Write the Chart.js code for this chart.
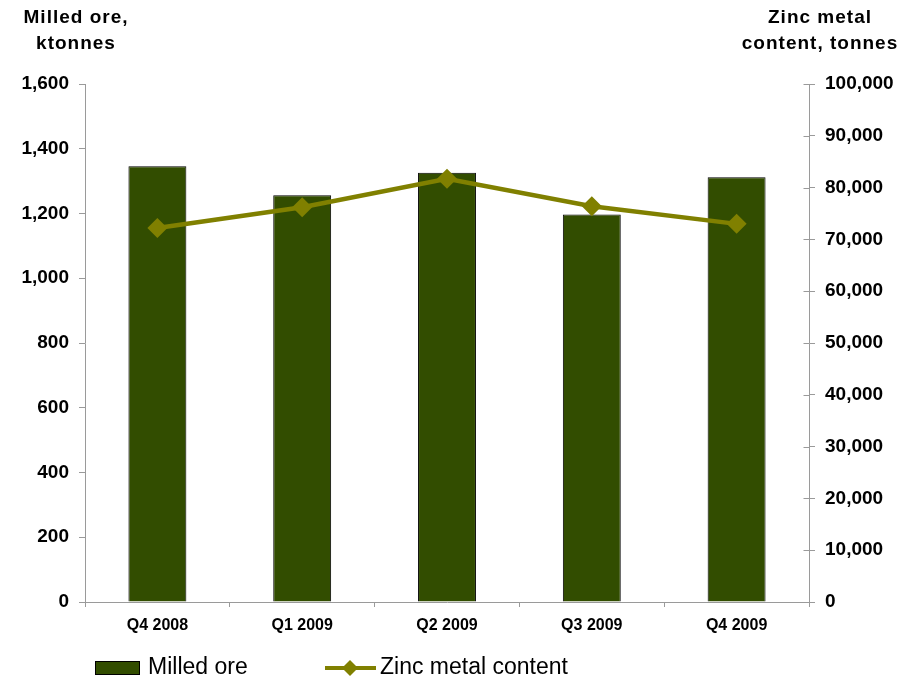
<!DOCTYPE html>
<html>
<head>
<meta charset="utf-8">
<script src="https://cdn.jsdelivr.net/npm/chart.js@4.4.0/dist/chart.umd.min.js"></script>
<style>
  html, body { margin: 0; padding: 0; background: #fff; }
  #wrap { width: 899px; height: 679px; position: relative; }
</style>
</head>
<body>
<div id="wrap"><canvas id="chart"></canvas></div>
<script>
  const quarters = ["Q4 2008", "Q1 2009", "Q2 2009", "Q3 2009", "Q4 2009"];
  const milledOre = [1346, 1256, 1326, 1197, 1312];        // ktonnes
  const zincContent = [72200, 76200, 81700, 76400, 73000];  // tonnes

  const FONT = "'Liberation Sans', Arial, sans-serif";
  const BAR_COLOR = "#324d00";
  const LINE_COLOR = "#808000";
  const AXIS_COLOR = "#9a9a9a";

  const fmt = v => Number(v).toLocaleString("en-US");

  // axis titles sit above the two value axes
  const axisTitles = {
    id: "axisTitles",
    afterDraw(chart) {
      const ctx = chart.ctx;
      ctx.save();
      ctx.fillStyle = "#000";
      ctx.font = "bold 19px " + FONT;
      ctx.letterSpacing = "1px";
      ctx.textAlign = "center";
      ctx.textBaseline = "alphabetic";
      ctx.fillText("Milled ore,", 76, 23);
      ctx.fillText("ktonnes", 76, 49);
      ctx.fillText("Zinc metal", 820, 23);
      ctx.fillText("content, tonnes", 820, 49);
      ctx.restore();
    }
  };

  // right axis ticks cross the axis line: add the inner half
  const innerTicks = {
    id: "innerTicks",
    afterDatasetsDraw(chart) {
      const s = chart.scales.y1;
      const ctx = chart.ctx;
      const x = Math.round(chart.chartArea.right) + 0.5;
      ctx.save();
      ctx.strokeStyle = AXIS_COLOR;
      ctx.lineWidth = 1;
      ctx.beginPath();
      s.ticks.forEach(t => {
        const y = Math.round(s.getPixelForValue(t.value)) + 0.5;
        ctx.moveTo(x - 6, y);
        ctx.lineTo(x, y);
      });
      ctx.stroke();
      ctx.restore();
    }
  };

  // legend row under the category axis
  const bottomLegend = {
    id: "bottomLegend",
    afterDraw(chart) {
      const ctx = chart.ctx;
      const ds = chart.data.datasets;
      const y = 668;
      ctx.save();
      // bar swatch
      ctx.fillStyle = ds[0].backgroundColor;
      ctx.fillRect(95, 661, 45, 14);
      ctx.strokeStyle = "#000";
      ctx.lineWidth = 1;
      ctx.strokeRect(95.5, 661.5, 44, 13);
      // line swatch with marker
      ctx.strokeStyle = ds[1].borderColor;
      ctx.lineWidth = 4;
      ctx.beginPath();
      ctx.moveTo(325, y);
      ctx.lineTo(376, y);
      ctx.stroke();
      ctx.fillStyle = ds[1].pointBackgroundColor;
      ctx.beginPath();
      ctx.moveTo(350, y - 8);
      ctx.lineTo(358, y);
      ctx.lineTo(350, y + 8);
      ctx.lineTo(342, y);
      ctx.closePath();
      ctx.fill();
      // labels
      ctx.fillStyle = "#000";
      ctx.font = "23px " + FONT;
      ctx.textBaseline = "middle";
      ctx.textAlign = "left";
      ctx.fillText(ds[0].label, 148, y);
      ctx.fillText(ds[1].label, 380, y);
      ctx.restore();
    }
  };

  new Chart(document.getElementById("chart"), {
    type: "bar",
    data: {
      labels: quarters,
      datasets: [
        {
          label: "Milled ore",
          data: milledOre,
          backgroundColor: BAR_COLOR,
          borderColor: "#000",
          borderWidth: 1,
          barPercentage: 0.4,
          categoryPercentage: 1,
          yAxisID: "y",
          order: 1
        },
        {
          type: "line",
          label: "Zinc metal content",
          data: zincContent,
          borderColor: LINE_COLOR,
          borderWidth: 4.5,
          pointStyle: "rectRot",
          pointRadius: 10,
          pointBackgroundColor: LINE_COLOR,
          pointBorderColor: LINE_COLOR,
          pointBorderWidth: 0,
          tension: 0,
          yAxisID: "y1",
          order: 0
        }
      ]
    },
    options: {
      responsive: true,
      maintainAspectRatio: false,
      animation: false,
      layout: { padding: { top: 84, bottom: 45, left: 0, right: 0 } },
      plugins: {
        legend: { display: false },
        tooltip: { enabled: false }
      },
      scales: {
        x: {
          offset: true,
          afterFit(scale) { scale.height = 32; },
          grid: {
            offset: true,
            drawOnChartArea: false,
            drawTicks: true,
            tickLength: 5,
            color: AXIS_COLOR
          },
          border: { display: true, color: AXIS_COLOR, width: 1 },
          ticks: {
            color: "#000",
            padding: 9,
            maxRotation: 0,
            font: { family: FONT, size: 16, weight: "bold" }
          }
        },
        y: {
          position: "left",
          min: 0,
          max: 1600,
          afterFit(scale) { scale.width = 85; },
          grid: {
            drawOnChartArea: false,
            drawTicks: true,
            tickLength: 6,
            color: AXIS_COLOR
          },
          border: { display: true, color: AXIS_COLOR, width: 1 },
          ticks: {
            stepSize: 200,
            color: "#000",
            padding: 10,
            font: { family: FONT, size: 19, weight: "bold" },
            callback: v => fmt(v)
          }
        },
        y1: {
          position: "right",
          min: 0,
          max: 100000,
          afterFit(scale) { scale.width = 90; },
          grid: {
            drawOnChartArea: false,
            drawTicks: true,
            tickLength: 6,
            color: AXIS_COLOR
          },
          border: { display: true, color: AXIS_COLOR, width: 1 },
          ticks: {
            stepSize: 10000,
            color: "#000",
            padding: 10,
            font: { family: FONT, size: 19, weight: "bold" },
            callback: v => fmt(v)
          }
        }
      }
    },
    plugins: [axisTitles, innerTicks, bottomLegend]
  });
</script>
</body>
</html>
